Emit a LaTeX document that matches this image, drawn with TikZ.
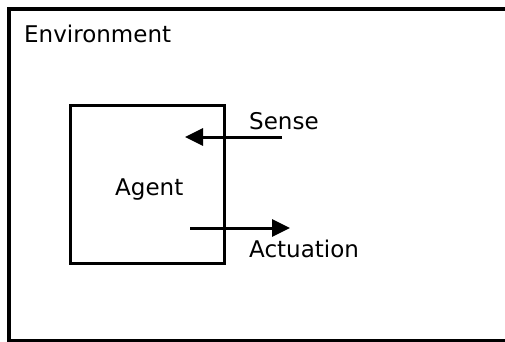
\documentclass[tikz,border=0pt]{standalone}
\usepackage{fontspec}
\setmainfont{DejaVu Sans}
\usetikzlibrary{arrows.meta}
\begin{document}
\begin{tikzpicture}[x=1pt,y=-1pt,
  label text/.style={anchor=base west,inner sep=0pt,font=\fontsize{23}{27}\selectfont},
  box/.style={draw=black,line width=3pt},
  flow/.style={line width=3pt,-{Triangle[length=18pt,width=17pt]}}]
\useasboundingbox (0,0) rectangle (505,342);
\fill[white] (0,0) rectangle (505,342);
\begin{scope}
\clip (0,0) rectangle (505,342);
% environment frame, running off the right and bottom edges
\draw[box,line width=3.5pt] (9,9) rectangle (530,340.5);
\end{scope}
\node[label text] (env) at (24,43) {Environment};
% agent box
\node[box,minimum width=154pt,minimum height=158pt,inner sep=0pt] (agent) at (147,184) {};
\node[label text] (agentlabel) at (115,195) {Agent};
% sense and actuation arrows
\coordinate (senseout) at (282,137);
\coordinate (sensein) at (185,137);
\coordinate (actout) at (190,228);
\coordinate (actin) at (290,228);
\draw[flow] (senseout) -- (sensein);
\draw[flow] (actout) -- (actin);
\node[label text] (sense) at (249,129) {Sense};
\node[label text] (act) at (249,257) {Actuation};
\end{tikzpicture}
\end{document}
